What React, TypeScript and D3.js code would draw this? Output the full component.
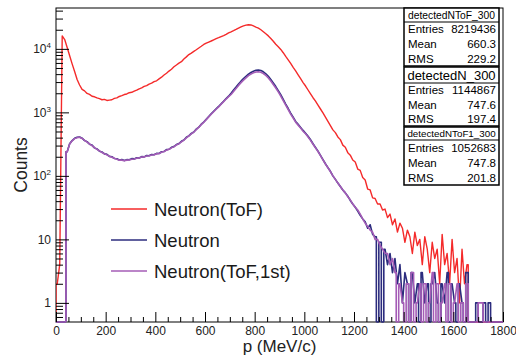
import React, { useEffect, useRef } from 'react';
import * as d3 from 'd3';

// 10 MeV/c bins from 0 to 1800
const binWidth = 10;

const redCounts = [
  2, 4, 16000, 14000, 10500, 7800, 5800, 4400, 3300, 2700,
  2300, 2180, 1990, 1920, 1790, 1760, 1690, 1650, 1580, 1600,
  1540, 1560, 1580, 1660, 1690, 1780, 1830, 1910, 1950, 2040,
  2070, 2160, 2240, 2350, 2430, 2560, 2640, 2790, 2880, 3040,
  3140, 3370, 3580, 3870, 4130, 4470, 4780, 5220, 5580, 5970,
  6280, 6920, 7480, 8120, 8580, 9120, 9680, 10320, 10980, 11720,
  12300, 12800, 13300, 13900, 14500, 15000, 15600, 16200, 16900, 17800,
  18500, 19300, 20200, 21200, 22200, 23000, 23600, 24000, 23800, 23000,
  22000, 21200, 20000, 18600, 17300, 16000, 14600, 13200, 11800, 10800,
  9800, 8700, 7600, 6700, 5900, 5100, 4500, 3900, 3400, 2950,
  2600, 2250, 1950, 1700, 1500, 1300, 1130, 980, 840, 720,
  620, 530, 480, 410, 372, 305, 282, 232, 212, 178,
  165, 128, 122, 94, 86, 62, 60, 45, 44, 36,
  36, 29, 30, 22, 25, 17, 21, 13, 18, 15,
  9, 14, 11, 6, 13, 8, 10, 4, 11, 7,
  3, 9, 5, 7, 2, 12, 4, 6, 2, 10,
  3, 5, 1, 7, 2, 4, 0, 0, 0, 0,
  0, 0, 0, 0, 0, 0, 0, 0, 0, 0,
];

const blueCounts = [
  0, 0, 0, 0, 240, 320, 360, 390, 405, 410,
  392, 360, 346, 316, 305, 276, 266, 245, 238, 222,
  218, 203, 200, 188, 186, 178, 181, 174, 180, 179,
  187, 185, 193, 191, 201, 199, 209, 207, 217, 215,
  226, 225, 240, 242, 259, 262, 282, 289, 312, 322,
  350, 366, 405, 426, 466, 490, 546, 584, 651, 704,
  780, 860, 950, 1040, 1140, 1240, 1360, 1500, 1650, 1800,
  2000, 2250, 2500, 2800, 3100, 3400, 3700, 4000, 4250, 4450,
  4600, 4650, 4550, 4350, 4050, 3700, 3300, 2900, 2550, 2200,
  1900, 1600, 1350, 1150, 970, 840, 720, 650, 580, 520,
  470, 420, 370, 320, 280, 245, 210, 180, 155, 135,
  118, 100, 88, 77, 68, 60, 54, 48, 41, 36,
  32, 28, 24, 21, 19, 15, 17, 12, 11, 0,
  9, 0, 7, 4, 6, 3, 5, 2, 4, 1,
  3, 2, 0, 3, 1, 2, 0, 3, 1, 2,
  0, 2, 3, 1, 0, 2, 1, 3, 0, 2,
  1, 0, 2, 1, 0, 3, 0, 0, 0, 1,
  0, 0, 1, 0, 1, 0, 0, 0, 0, 0,
];

const purpleCounts = [
  0, 0, 0, 0, 240, 318, 356, 386, 400, 406,
  388, 362, 340, 318, 300, 278, 262, 247, 234, 223,
  214, 204, 197, 189, 183, 177, 177, 173, 177, 178,
  183, 184, 190, 191, 198, 199, 205, 207, 213, 215,
  222, 225, 236, 242, 254, 262, 276, 289, 306, 322,
  343, 366, 397, 426, 458, 490, 536, 584, 640, 700,
  770, 850, 935, 1025, 1120, 1220, 1340, 1475, 1620, 1765,
  1910, 2140, 2380, 2660, 2940, 3220, 3500, 3780, 4010, 4190,
  4320, 4360, 4270, 4090, 3810, 3490, 3120, 2750, 2420, 2100,
  1810, 1530, 1300, 1110, 940, 815, 700, 630, 565, 505,
  460, 410, 362, 315, 276, 242, 208, 179, 154, 134,
  117, 100, 88, 77, 68, 60, 54, 47, 42, 36,
  32, 29, 25, 21, 18, 16, 14, 13, 10, 10,
  8, 7, 6, 6, 4, 5, 3, 0, 2, 1,
  0, 2, 0, 3, 0, 1, 2, 0, 2, 0,
  1, 3, 0, 2, 0, 1, 2, 0, 2, 0,
  1, 2, 0, 1, 0, 2, 0, 0, 0, 0,
  1, 1, 0, 0, 0, 0, 0, 0, 0, 0,
];

const xTicks = [0, 200, 400, 600, 800, 1000, 1200, 1400, 1600, 1800];
const yTicks = [1, 10, 100, 1000, 10000];
const yTickLabels = [['1', ''], ['10', ''], ['10', '2'], ['10', '3'], ['10', '4']];

const seriesColors = ['#f42a2a', '#2c2c7e', '#a45cb6'];
const legendLabels = ['Neutron(ToF)', 'Neutron', 'Neutron(ToF,1st)'];

const statsNames = ['detectedNToF_300', 'detectedN_300', 'detectedNToF1_300'];
const statsEntries = ['8219436', '1144867', '1052683'];
const statsMean = ['660.3', '747.6', '747.8'];
const statsRms = ['229.2', '197.4', '201.8'];

const font = "'Liberation Sans', Arial, Helvetica, sans-serif";

export default function App() {
  const ref = useRef<SVGSVGElement>(null);

  useEffect(() => {
    const svg = d3.select(ref.current);
    svg.selectAll('*').remove();

    const left = 56, right = 503, top = 8, bottom = 322;

    const x = d3.scaleLinear().domain([0, 1800]).range([left, right]);
    const y = d3.scaleLog().domain([0.5, 44000]).range([bottom, top]);

    svg.append('rect').attr('width', 516).attr('height', 357).attr('fill', '#fff');

    // frame
    svg.append('rect')
      .attr('x', left).attr('y', top)
      .attr('width', right - left).attr('height', bottom - top)
      .attr('fill', 'none').attr('stroke', '#000').attr('stroke-width', 1);

    svg.append('clipPath').attr('id', 'plotclip')
      .append('rect')
      .attr('x', left).attr('y', top)
      .attr('width', right - left).attr('height', bottom - top + 1);

    // histogram outline: joined bin centres, empty bins drop to the frame bottom
    const histPath = (counts: number[]) => {
      let d = '';
      let pen = false;
      counts.forEach((c, i) => {
        const x0 = x(i * binWidth), x1 = x((i + 1) * binWidth), xc = x((i + 0.5) * binWidth);
        if (c > 0) {
          const yy = y(c);
          if (!pen) {
            d += 'M' + x0 + ',' + bottom + 'L' + x0 + ',' + yy + 'L' + xc + ',' + yy;
            pen = true;
          } else {
            d += 'L' + xc + ',' + yy;
          }
          if (i == counts.length - 1) d += 'L' + x1 + ',' + yy;
        } else {
          if (pen) d += 'L' + x0 + ',' + y(counts[i - 1]) + 'L' + x0 + ',' + bottom;
          pen = false;
          d += 'M' + x0 + ',' + bottom + 'L' + x1 + ',' + bottom;
        }
      });
      return d;
    };

    const hists = [redCounts, blueCounts, purpleCounts];
    const g = svg.append('g').attr('clip-path', 'url(#plotclip)');
    hists.forEach((counts, k) => {
      g.append('path')
        .attr('d', histPath(counts))
        .attr('fill', 'none')
        .attr('stroke', seriesColors[k])
        .attr('stroke-width', k == 0 ? 1.4 : 1.6)
        .attr('stroke-linejoin', 'round');
    });

    // x axis (ticks point inward)
    const xMinor = d3.range(0, 1801, 50).filter(v => v % 200 != 0);
    const xAxisMinor = svg.append('g')
      .attr('transform', 'translate(0,' + bottom + ')')
      .call(d3.axisBottom(x).tickValues(xMinor).tickSize(-5).tickFormat(() => ''));
    xAxisMinor.select('.domain').remove();
    const xAxis = svg.append('g')
      .attr('transform', 'translate(0,' + bottom + ')')
      .call(d3.axisBottom(x).tickValues(xTicks).tickSize(-10).tickPadding(4.5).tickFormat(d3.format('d')));
    xAxis.select('.domain').remove();
    xAxis.selectAll('text').attr('font-family', font).attr('font-size', 12).attr('fill', '#222');

    // y axis (log)
    const yMinor: number[] = [];
    [0.1, 1, 10, 100, 1000, 10000].forEach(dec => {
      for (let m = 2; m <= 9; m++) {
        const v = m * dec;
        if (v > 0.5 && v < 44000) yMinor.push(v);
      }
    });
    const yAxisMinor = svg.append('g')
      .attr('transform', 'translate(' + left + ',0)')
      .call(d3.axisLeft(y).tickValues(yMinor).tickSize(-7).tickFormat(() => ''));
    yAxisMinor.select('.domain').remove();
    const yAxis = svg.append('g')
      .attr('transform', 'translate(' + left + ',0)')
      .call(d3.axisLeft(y).tickValues(yTicks).tickSize(-13).tickFormat(() => ''));
    yAxis.select('.domain').remove();
    svg.selectAll('.tick line').attr('stroke', '#000');

    yTicks.forEach((v, i) => {
      const t = svg.append('text')
        .attr('x', 51).attr('y', y(v) + 4.5)
        .attr('text-anchor', 'end')
        .attr('font-family', font).attr('font-size', 12).attr('fill', '#222');
      t.append('tspan').text(yTickLabels[i][0]);
      if (yTickLabels[i][1]) {
        t.append('tspan').attr('font-size', 8).attr('dy', -5).text(yTickLabels[i][1]);
      }
    });

    // axis titles
    svg.append('text')
      .attr('x', (left + right) / 2).attr('y', 352)
      .attr('text-anchor', 'middle')
      .attr('font-family', font).attr('font-size', 17).attr('fill', '#222')
      .text('p (MeV/c)');
    svg.append('text')
      .attr('transform', 'translate(27,' + (top + bottom) / 2 + ') rotate(-90)')
      .attr('text-anchor', 'middle')
      .attr('font-family', font).attr('font-size', 17.5).attr('fill', '#222')
      .text('Counts');

    // legend
    const legendY = [209, 240, 271];
    legendLabels.forEach((lab, i) => {
      svg.append('line')
        .attr('x1', 111).attr('x2', 147)
        .attr('y1', legendY[i]).attr('y2', legendY[i])
        .attr('stroke', seriesColors[i]).attr('stroke-width', 1.4);
      svg.append('text')
        .attr('x', 154).attr('y', legendY[i] + 7)
        .attr('font-family', font).attr('font-size', 18.5).attr('fill', '#1a1a1a')
        .text(lab);
    });

    // stats boxes
    const bx0 = 404, bx1 = 499;
    const boxes = [
      { y0: 8, y1: 66, div: 22, titleSize: 10.3 },
      { y0: 67, y1: 126, div: 83, titleSize: 13 },
      { y0: 127, y1: 185, div: 140, titleSize: 9.8 },
    ];
    boxes.forEach((b, i) => {
      svg.append('rect')
        .attr('x', bx0).attr('y', b.y0)
        .attr('width', bx1 - bx0).attr('height', b.y1 - b.y0)
        .attr('fill', '#fff').attr('stroke', '#000').attr('stroke-width', 1.5);
      svg.append('line')
        .attr('x1', bx0).attr('x2', bx1)
        .attr('y1', b.div).attr('y2', b.div)
        .attr('stroke', '#000').attr('stroke-width', 1);
      svg.append('text')
        .attr('x', (bx0 + bx1) / 2).attr('y', (b.y0 + b.div) / 2 + b.titleSize * 0.36)
        .attr('text-anchor', 'middle')
        .attr('font-family', font).attr('font-size', b.titleSize).attr('fill', '#000')
        .text(statsNames[i]);
      const rowH = (b.y1 - b.div) / 3;
      const rows = [['Entries', statsEntries[i]], ['Mean', statsMean[i]], ['RMS', statsRms[i]]];
      rows.forEach((r, j) => {
        const cy = b.div + rowH * (j + 0.5) + 4;
        svg.append('text')
          .attr('x', bx0 + 4).attr('y', cy)
          .attr('font-family', font).attr('font-size', 11.5).attr('fill', '#000')
          .text(r[0]);
        svg.append('text')
          .attr('x', bx1 - 3).attr('y', cy)
          .attr('text-anchor', 'end')
          .attr('font-family', font).attr('font-size', 11.5).attr('fill', '#000')
          .text(r[1]);
      });
    });
  }, []);

  return (
    <svg ref={ref} width={516} height={357}
      style={{ position: 'absolute', left: 0, top: 0, display: 'block' }} />
  );
}
